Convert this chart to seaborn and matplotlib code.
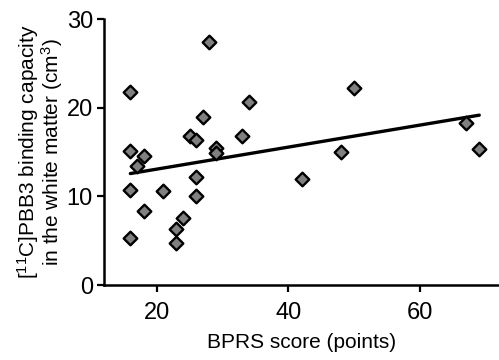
import numpy as np
import pandas as pd
import matplotlib
matplotlib.use("Agg")
import matplotlib.pyplot as plt
import seaborn as sns

# BPRS score vs [11C]PBB3 binding capacity in white matter
bprs = [16, 16, 16, 16, 17, 18, 18, 21, 23, 23, 24, 25, 26, 26, 26,
        27, 28, 29, 29, 33, 34, 42, 48, 50, 67, 69]
binding = [21.8, 15.1, 10.7, 5.3, 13.4, 14.5, 8.4, 10.6, 6.3, 4.7, 7.6, 16.8,
           16.3, 12.2, 10.0, 18.9, 27.4, 15.4, 14.9, 16.8, 20.6, 11.9, 15.0,
           22.2, 18.3, 15.3]
x_ticks = [20, 40, 60]
y_ticks = [0, 10, 20, 30]

df = pd.DataFrame({"bprs": bprs, "binding": binding})

sns.set_style("ticks")
plt.rcParams["font.family"] = ["Liberation Sans", "DejaVu Sans"]
plt.rcParams["mathtext.fontset"] = "custom"
plt.rcParams["mathtext.rm"] = "Liberation Sans"
plt.rcParams["mathtext.default"] = "regular"
plt.rcParams["text.color"] = "black"
plt.rcParams["axes.labelcolor"] = "black"
plt.rcParams["xtick.color"] = "black"
plt.rcParams["ytick.color"] = "black"

fig = plt.figure(figsize=(4.99, 3.6), dpi=100)
ax = fig.add_axes([104 / 499, 1 - 285 / 360, 1 - 104 / 499, (285 - 19) / 360])

sns.regplot(data=df, x="bprs", y="binding", scatter=False, ci=None,
            color="black", line_kws={"linewidth": 2.4}, ax=ax)
sns.scatterplot(data=df, x="bprs", y="binding", marker="D", s=48,
                color="#808080", edgecolor="black", linewidth=1.7,
                zorder=3, ax=ax)

ax.set_xlim(12, 72)
ax.set_ylim(0, 30)
ax.set_xticks(x_ticks)
ax.set_yticks(y_ticks)
ax.tick_params(labelsize=17, width=1.6, length=5)
ax.tick_params(axis="x", pad=7)
ax.tick_params(axis="y", pad=3)
for side in ["left", "bottom"]:
    ax.spines[side].set_linewidth(1.8)
    ax.spines[side].set_color("black")
sns.despine(ax=ax)

ax.set_xlabel("BPRS score (points)", fontsize=15, labelpad=7)
ax.set_ylabel("[$^{11}$C]PBB3 binding capacity\nin the white matter (cm$^{3}$)",
              fontsize=15, labelpad=1, linespacing=0.9)

fig.savefig("out.png", dpi=100)
